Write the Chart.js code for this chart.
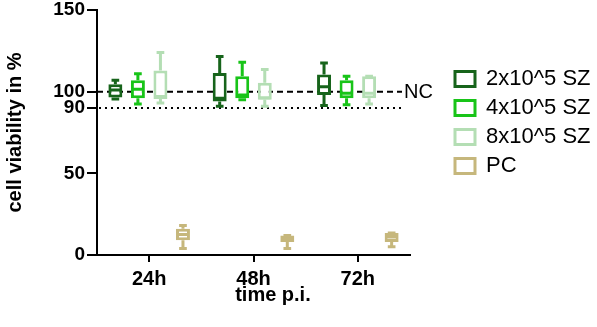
<!DOCTYPE html>
<html>
<head>
<meta charset="utf-8">
<script src="https://cdn.jsdelivr.net/npm/chart.js@4.4.1/dist/chart.umd.min.js"></script>
<style>
  html, body { margin: 0; padding: 0; background: #fff; }
  #wrap { width: 597px; height: 327px; }
</style>
</head>
<body>
<div id="wrap"><canvas id="c" width="597" height="327"></canvas></div>
<script>
// ---- data ----
const categories = ['24h', '48h', '72h'];
const seriesNames = ['2x10^5 SZ', '4x10^5 SZ', '8x10^5 SZ', 'PC'];
const yTicks = [0, 50, 90, 100, 150];
const ncLevel = 100;
const thresholdLevel = 90;

const sz2Min = [95.5, 91, 91.5];
const sz2Q1  = [96.5, 94, 98];
const sz2Med = [101, 96, 103];
const sz2Q3  = [104.5, 111.5, 110.5];
const sz2Max = [107, 121.5, 117.5];

const sz4Min = [92.5, 95, 92];
const sz4Q1  = [96, 96, 96];
const sz4Med = [101.5, 98, 99];
const sz4Q3  = [107, 109.5, 107];
const sz4Max = [111, 118, 109.5];

const sz8Min = [93, 91, 92.5];
const sz8Q1  = [95.5, 95, 96];
const sz8Med = [97, 96.3, 99];
const sz8Q3  = [113, 105.5, 109.5];
const sz8Max = [124, 113.5, 109.5];

const pcMin = [4, 4, 5];
const pcQ1  = [9, 8, 8];
const pcMed = [12.5, 10, 11];
const pcQ3  = [16, 12, 13.5];
const pcMax = [18, 12, 13.5];

const colors = ['#17641b', '#18c418', '#b4deb4', '#c6b77c'];

// ---- build ----
const stats = [
  {min: sz2Min, q1: sz2Q1, med: sz2Med, q3: sz2Q3, max: sz2Max},
  {min: sz4Min, q1: sz4Q1, med: sz4Med, q3: sz4Q3, max: sz4Max},
  {min: sz8Min, q1: sz8Q1, med: sz8Med, q3: sz8Q3, max: sz8Max},
  {min: pcMin, q1: pcQ1, med: pcMed, q3: pcQ3, max: pcMax}
];

const datasets = stats.map((s, i) => ({
  label: seriesNames[i],
  data: s.q1.map((v, j) => [v, s.q3[j]]),
  backgroundColor: '#ffffff',
  borderColor: colors[i],
  borderWidth: 3,
  borderSkipped: false,
  categoryPercentage: 0.864,
  barPercentage: 0.62,
  yAxisID: 'y'
}));

const refLines = {
  id: 'refLines',
  beforeDatasetsDraw(chart) {
    const {ctx, chartArea, scales} = chart;
    const y = scales.y;
    ctx.save();
    ctx.strokeStyle = '#000';
    ctx.lineWidth = 2;
    let py = y.getPixelForValue(ncLevel);
    ctx.setLineDash([6, 4]);
    ctx.beginPath();
    ctx.moveTo(chartArea.left, py);
    ctx.lineTo(chartArea.right - 8, py);
    ctx.stroke();
    py = y.getPixelForValue(thresholdLevel);
    ctx.setLineDash([2, 4]);
    ctx.beginPath();
    ctx.moveTo(chartArea.left + 2, py);
    ctx.lineTo(chartArea.right - 8, py);
    ctx.stroke();
    ctx.restore();
  },
  afterDraw(chart) {
    const {ctx, chartArea, scales} = chart;
    const py = scales.y.getPixelForValue(ncLevel);
    ctx.save();
    ctx.fillStyle = '#000';
    ctx.font = '20px "Liberation Sans", Arial, sans-serif';
    ctx.textBaseline = 'middle';
    ctx.textAlign = 'left';
    ctx.fillText('NC', chartArea.right - 6, py + 1);
    ctx.restore();
  }
};

const whiskers = {
  id: 'whiskers',
  afterDatasetsDraw(chart) {
    const {ctx, scales} = chart;
    const y = scales.y;
    ctx.save();
    ctx.lineWidth = 3;
    ctx.setLineDash([]);
    stats.forEach((s, i) => {
      const meta = chart.getDatasetMeta(i);
      ctx.strokeStyle = colors[i];
      meta.data.forEach((el, j) => {
        const x = el.x, w = el.width;
        const cap = w * 0.55;
        const yMin = y.getPixelForValue(s.min[j]);
        const yQ1 = y.getPixelForValue(s.q1[j]);
        const yMed = y.getPixelForValue(s.med[j]);
        const yQ3 = y.getPixelForValue(s.q3[j]);
        const yMax = y.getPixelForValue(s.max[j]);
        ctx.beginPath();
        ctx.moveTo(x - w / 2 + 1.5, yMed); ctx.lineTo(x + w / 2 - 1.5, yMed);
        if (yMax < yQ3 - 0.5) {
          ctx.moveTo(x, yQ3); ctx.lineTo(x, yMax);
        }
        ctx.moveTo(x - cap / 2, yMax); ctx.lineTo(x + cap / 2, yMax);
        if (yMin > yQ1 + 0.5) {
          ctx.moveTo(x, yQ1); ctx.lineTo(x, yMin);
        }
        ctx.moveTo(x - cap / 2, yMin); ctx.lineTo(x + cap / 2, yMin);
        ctx.stroke();
      });
    });
    ctx.restore();
  }
};

const narrowBold = {family: '"Liberation Sans Narrow", "Liberation Sans", Arial, sans-serif', weight: 'bold'};

new Chart(document.getElementById('c'), {
  type: 'bar',
  data: { labels: categories, datasets },
  plugins: [refLines, whiskers],
  options: {
    responsive: false,
    animation: false,
    events: [],
    layout: { padding: { top: 10, left: 0, right: 0, bottom: 0 } },
    plugins: {
      tooltip: { enabled: false },
      legend: {
        position: 'right',
        align: 'start',
        maxWidth: 149,
        title: { display: true, text: '', font: { size: 10 }, padding: { top: 0, bottom: 39 } },
        labels: {
          boxWidth: 20,
          boxHeight: 15,
          padding: 7,
          color: '#000',
          font: { family: '"Liberation Sans", Arial, sans-serif', size: 22 }
        }
      }
    },
    scales: {
      x: {
        grid: { drawOnChartArea: false, drawTicks: true, tickLength: 7, color: '#000', lineWidth: 2, offset: false },
        border: { color: '#000', width: 2 },
        ticks: { color: '#000', padding: 5, font: Object.assign({size: 20}, narrowBold) },
        title: { display: true, text: '       time p.i.', color: '#000', padding: { top: 0, bottom: 20 },
                 font: { family: '"Liberation Sans", Arial, sans-serif', weight: 'bold', size: 20 } },
        afterFit(s) { s.height = 72; }
      },
      y: {
        min: 0, max: 150,
        afterBuildTicks(s) { s.ticks = yTicks.map(v => ({ value: v })); },
        grid: { drawOnChartArea: false, drawTicks: true, tickLength: 10, color: '#000', lineWidth: 2 },
        border: { color: '#000', width: 2 },
        ticks: { color: '#000', padding: 2, font: Object.assign({size: 19}, narrowBold) },
        title: { display: true, text: 'cell viability in %', color: '#000', padding: { top: 3, bottom: 0 },
                 font: { family: '"Liberation Sans", Arial, sans-serif', weight: 'bold', size: 20 } },
        afterFit(s) { s.width = 97; s.paddingTop = 0; s.paddingBottom = 0; }
      },
      y2: {
        position: 'right',
        display: true,
        grid: { display: false },
        border: { display: false },
        ticks: { display: false },
        afterFit(s) { s.width = 38; }
      }
    }
  }
});
</script>
</body>
</html>
